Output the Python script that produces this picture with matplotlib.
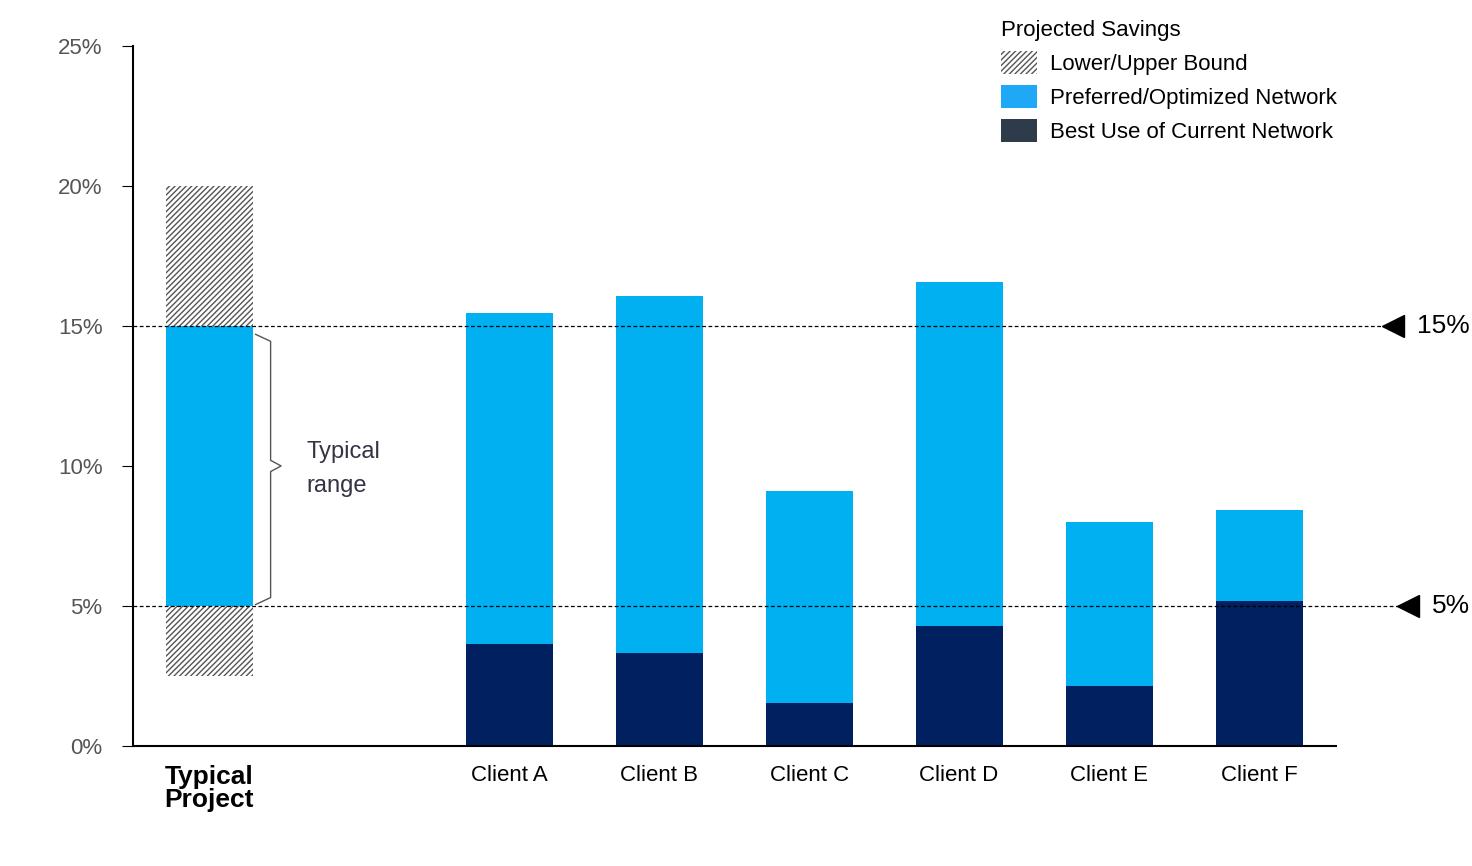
import matplotlib
matplotlib.use('Agg')
import matplotlib.pyplot as plt
from matplotlib.patches import Patch

#data
clients = ['Client A', 'Client B', 'Client C', 'Client D', 'Client E', 'Client F']
best_use = [3.64, 3.32, 1.54, 4.29, 2.14, 5.18]
preferred = [15.46, 16.07, 9.1, 16.57, 8.0, 8.43]
typical_bounds = [2.5, 20.0]
typical_range = [5.0, 15.0]
ref_lines = [15, 5]

blue = '#00B0F0'
navy = '#002060'

plt.rcParams['font.family'] = ['Arial', 'Liberation Sans', 'DejaVu Sans']
fig = plt.figure(figsize=(14.72, 8.66), dpi=100)
ax = fig.add_axes([0.0904, 0.1386, 0.8172, 0.8084])

w = 0.58
#typical project
ax.bar(0, typical_bounds[1] - typical_bounds[0], bottom=typical_bounds[0], width=w,
       color='white', edgecolor='#555555', hatch='//////', linewidth=0)
ax.bar(0, typical_range[1] - typical_range[0], bottom=typical_range[0], width=w,
       color=blue, linewidth=0)

xs = list(range(2, 2 + len(clients)))
ax.bar(xs, preferred, width=w, color=blue, linewidth=0)
ax.bar(xs, best_use, width=w, color=navy, linewidth=0)

#reference lines
for v in ref_lines:
    ax.plot([-0.507, 7.95], [v, v], ls=(0, (3, 2)), color='black', lw=0.9, clip_on=False, zorder=3)
ax.plot(7.89, 15, marker='<', color='black', ms=16, clip_on=False)
ax.text(8.05, 15, '15%', fontsize=19, va='center', ha='left')
ax.plot(7.99, 5, marker='<', color='black', ms=16, clip_on=False)
ax.text(8.15, 5, '5%', fontsize=19, va='center', ha='left')

#brace
bx = 0.31
ax.plot([bx, bx + 0.1, bx + 0.1, bx + 0.17, bx + 0.1, bx + 0.1, bx],
        [14.7, 14.45, 10.2, 10.0, 9.8, 5.3, 5.05], color='#555555', lw=1)
ax.text(0.65, 10.5, 'Typical', fontsize=17, color='#333344', va='center')
ax.text(0.65, 9.3, 'range', fontsize=17, color='#333344', va='center')

ax.set_xlim(-0.507, 7.513)
ax.set_ylim(0, 25)
ax.set_yticks([0, 5, 10, 15, 20, 25])
ax.set_yticklabels(['0%', '5%', '10%', '15%', '20%', '25%'], fontsize=16, color='#555555')
ax.set_xticks([0] + xs)
ax.set_xticklabels(['Typical\nProject'] + clients, fontsize=16)
ax.get_xticklabels()[0].set_fontweight('bold')
ax.get_xticklabels()[0].set_fontsize(19)
ax.get_xticklabels()[0].set_linespacing(0.9)
ax.tick_params(axis='x', length=0, pad=14)
ax.tick_params(axis='y', length=8, pad=14)
for s in ['top', 'right']:
    ax.spines[s].set_visible(False)
ax.spines['left'].set_linewidth(1.5)
ax.spines['bottom'].set_linewidth(1.5)

handles = [Patch(facecolor='white', edgecolor='#555555', hatch='//////', linewidth=0),
           Patch(facecolor='#1EA8F5'), Patch(facecolor='#2E3B4A')]
leg = ax.legend(handles, ['Lower/Upper Bound', 'Preferred/Optimized Network', 'Best Use of Current Network'],
                title='Projected Savings', loc='upper left', bbox_to_anchor=(0.705, 1.065),
                frameon=False, fontsize=16, title_fontsize=16, handlelength=1.6, handleheight=1.2,
                labelspacing=0.45, handletextpad=0.6)
leg._legend_box.align = 'left'

fig.savefig('out.png', dpi=100)
